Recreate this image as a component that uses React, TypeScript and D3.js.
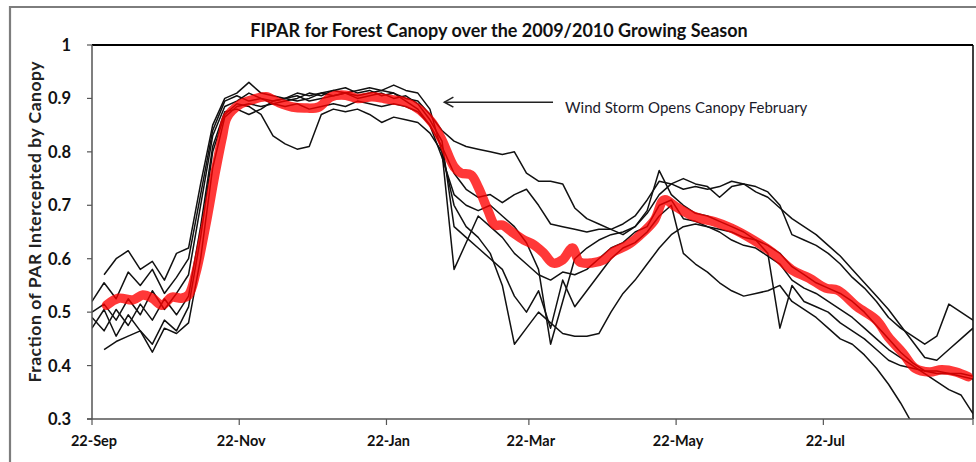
import React from "react";
import * as d3 from "d3";

const chartTitle = "FIPAR for Forest Canopy over the 2009/2010 Growing Season";
const yAxisTitle = "Fraction of PAR Intercepted by Canopy";
const annotationText = "Wind Storm Opens Canopy February";

const yTicks = [0.3, 0.4, 0.5, 0.6, 0.7, 0.8, 0.9, 1];
const yTickLabels = ["0.3", "0.4", "0.5", "0.6", "0.7", "0.8", "0.9", "1"];
// days after 22-Sep-2009
const xTickDays = [0, 61, 122, 181, 242, 303, 365];
const xTickLabels = ["22-Sep", "22-Nov", "22-Jan", "22-Mar", "22-May", "22-Jul", ""];

const sensorDays = [0, 5, 10, 15, 20, 25, 30, 35, 40, 45, 50, 55, 60, 65, 70, 75, 80, 85, 90, 95, 100, 105, 110, 115, 120, 125, 130, 135, 140, 145, 150, 155, 160, 165, 170, 175, 180, 185, 190, 195, 200, 205, 210, 215, 220, 225, 230, 235, 240, 245, 250, 255, 260, 265, 270, 275, 280, 285, 290, 295, 300, 305, 310, 315, 320, 325, 330, 335, 340, 345, 350, 355, 360, 365];

const sensor1 = [null, .57, .60, .615, .58, .595, .56, .61, .62, .74, .85, .90, .91, .93, .91, .905, .90, .91, .905, .91, .915, .91, .915, .92, .915, .91, .90, .895, .87, .84, .82, .81, .805, .80, .795, .80, .76, .745, .745, .74, .695, .675, .665, .655, .645, .66, .685, .72, .74, .75, .74, .735, .715, .735, .74, .735, .725, .70, .645, .635, .625, .61, .59, .565, .545, .52, .49, .47, .455, .44, .455, .515, .50, .485];
const sensor2 = [.52, .555, .525, .575, .55, .58, .535, .565, .60, .72, .84, .895, .905, .895, .90, .89, .895, .90, .91, .905, .915, .92, .91, .915, .905, .91, .895, .88, .85, .81, .76, .73, .715, .72, .705, .72, .73, .70, .665, .66, .655, .65, .655, .655, .665, .68, .71, .745, .74, .73, .735, .73, .735, .745, .74, .725, .715, .695, .675, .66, .645, .625, .605, .58, .555, .53, .505, .475, .445, .415, .41, .43, .45, .47];
const sensor3 = [.50, .515, .485, .525, .495, .54, .505, .535, .57, .70, .83, .885, .895, .91, .90, .895, .90, .895, .90, .91, .905, .91, .905, .91, .915, .925, .915, .91, .88, .80, .58, .63, .68, .66, .64, .61, .59, .57, .56, .575, .57, .58, .60, .62, .63, .65, .66, .70, .71, .675, .67, .66, .65, .635, .625, .62, .605, .59, .56, .545, .535, .52, .505, .49, .47, .45, .43, .415, .40, .385, .37, .355, .345, .31];
const sensor4 = [.49, .465, .505, .475, .515, .485, .525, .495, .53, .66, .81, .875, .88, .87, .88, .895, .90, .905, .895, .90, .905, .91, .90, .905, .91, .90, .905, .89, .86, .82, .66, .64, .62, .60, .58, .53, .50, .54, .47, .56, .51, .54, .57, .60, .62, .63, .65, .68, .70, .61, .59, .575, .555, .54, .53, .535, .54, .55, .52, .505, .49, .47, .45, .44, .42, .395, .365, .33, .29, null, null, null, null, null];
const sensor5 = [.47, .505, .455, .495, .465, .44, .485, .465, .51, .64, .80, .87, .89, .885, .87, .83, .815, .805, .81, .87, .88, .875, .88, .87, .855, .865, .86, .855, .835, .80, .70, .66, .64, .61, .55, .44, .47, .50, .48, .46, .455, .455, .46, .50, .535, .56, .59, .62, .645, .66, .665, .66, .655, .65, .64, .635, .625, .61, .585, .57, .555, .545, .535, .52, .50, .475, .45, .425, .405, .39, .385, .385, .38, .375];
const sensor6 = [null, .43, .445, .455, .465, .425, .47, .46, .48, .60, .77, .865, .885, .89, .885, .89, .885, .89, .88, .885, .89, .885, .895, .89, .885, .89, .885, .875, .85, .79, .72, .70, .69, .70, .68, .66, .63, .58, .44, .52, .60, .62, .635, .645, .65, .66, .69, .765, .72, .70, .685, .68, .67, .66, .65, .635, .61, .47, .55, .52, .51, .50, .48, .465, .45, .43, .41, .40, .395, .39, .39, .385, .385, .38];

const meanDays = [6, 11, 17, 21, 25, 29, 33, 37, 40, 43, 47, 51, 54, 56, 61, 66, 72, 77, 83, 88, 94, 99, 105, 110, 116, 121, 125, 130, 136, 141, 145, 150, 153, 157, 160, 164, 167, 170, 174, 179, 183, 187, 191, 195, 199, 202, 207, 212, 216, 222, 227, 233, 237, 242, 250, 258, 265, 274, 282, 290, 297, 304, 309, 317, 325, 330, 336, 341, 347, 352, 358, 363];
const meanValues = [.513, .526, .523, .532, .526, .513, .528, .526, .532, .573, .66, .76, .828, .865, .888, .897, .903, .893, .884, .882, .884, .903, .906, .9, .903, .9, .897, .893, .878, .854, .822, .772, .76, .757, .734, .691, .663, .663, .65, .635, .626, .611, .592, .598, .62, .594, .592, .598, .613, .626, .644, .672, .71, .697, .678, .669, .657, .635, .611, .579, .564, .545, .541, .51, .485, .453, .423, .395, .388, .392, .388, .379];

// annotation anchor points (day, value)
const arrowTip = [146, 0.893];
const arrowTail = [191, 0.893];
const annotationAt = [196, 0.893];

const START = Date.UTC(2009, 8, 22);
const toDate = (d: number) => new Date(START + d * 86400000);

const W = 976;
const H = 462;
const FONT = "Lato, 'Open Sans', 'DejaVu Sans', sans-serif";

export default function App() {
  const x = d3.scaleUtc().domain([toDate(0), toDate(365)]).range([92, 973]);
  const y = d3.scaleLinear().domain([0.3, 1]).range([419, 45]);

  const sensors = [sensor1, sensor2, sensor3, sensor4, sensor5, sensor6];
  const blackLine = d3
    .line<[number, number | null]>()
    .defined((p) => p[1] !== null)
    .x((p) => x(toDate(p[0])))
    .y((p) => y(p[1] as number));

  const redLine = d3
    .line<[number, number]>()
    .x((p) => x(toDate(p[0])))
    .y((p) => y(p[1]))
    .curve(d3.curveCatmullRom.alpha(0.5));

  const meanPts: [number, number][] = meanDays.map((d, i) => [d, meanValues[i]]);

  const [x0, x1] = x.range();
  const [yb, yt] = y.range();

  const tipX = x(toDate(arrowTip[0]));
  const tipY = y(arrowTip[1]);
  const tailX = x(toDate(arrowTail[0]));

  return (
    <svg
      width={W}
      height={H}
      style={{ position: "absolute", left: 0, top: 0, background: "#fff" }}
      fontFamily={FONT}
    >
      <rect x={0} y={0} width={W} height={H} fill="#fff" />
      {/* outer chart frame (cropped at right/bottom) */}
      <path d={`M10,${H + 5} L10,7 L${W + 5},7`} fill="none" stroke="#7d7d7d" strokeWidth={2.2} />

      <text x={499} y={30} textAnchor="middle" dominantBaseline="central" fontSize={18} fontWeight={700} fill="#111">
        {chartTitle}
      </text>

      <defs>
        <clipPath id="plotClip">
          <rect x={x0} y={yt} width={x1 - x0} height={yb - yt} />
        </clipPath>
      </defs>

      {/* plot border */}
      <line x1={x0} x2={x1} y1={yt} y2={yt} stroke="#000" strokeWidth={2} />
      <line x1={x1} x2={x1} y1={yt} y2={yb} stroke="#000" strokeWidth={1.5} />

      <g clipPath="url(#plotClip)">
        {sensors.map((s, i) => (
          <path
            key={i}
            d={blackLine(sensorDays.map((d, j) => [d, s[j]] as [number, number | null])) || ""}
            fill="none"
            stroke="#111"
            strokeWidth={1.5}
            strokeLinejoin="round"
          />
        ))}
        <path
          d={redLine(meanPts) || ""}
          fill="none"
          stroke="#ff0000"
          strokeOpacity={0.78}
          strokeWidth={9.5}
          strokeLinecap="round"
          strokeLinejoin="round"
        />
      </g>

      {/* axes */}
      <line x1={x0} x2={x0} y1={yt} y2={yb} stroke="#555" strokeWidth={1.5} />
      <line x1={x0 - 5} x2={x1} y1={yb} y2={yb} stroke="#555" strokeWidth={1.5} />
      {yTicks.map((t, i) => (
        <g key={t}>
          <line x1={x0 - 5} x2={x0} y1={y(t)} y2={y(t)} stroke="#555" strokeWidth={1.2} />
          <text x={71} y={y(t)} textAnchor="end" dominantBaseline="central" fontSize={16.5} fontWeight={700} fill="#111">
            {yTickLabels[i]}
          </text>
        </g>
      ))}
      {xTickDays.map((d, i) => (
        <g key={d}>
          <line x1={x(toDate(d))} x2={x(toDate(d))} y1={yb} y2={yb + 6} stroke="#555" strokeWidth={1.2} />
          <text x={x(toDate(d)) + 2} y={440} textAnchor="middle" dominantBaseline="central" fontSize={14.5} fontWeight={700} fill="#111">
            {xTickLabels[i]}
          </text>
        </g>
      ))}

      <text
        transform={`translate(34,222) rotate(-90)`}
        textAnchor="middle"
        dominantBaseline="central"
        fontSize={17.5}
        fontWeight={700}
        fill="#222"
        textLength={321}
        lengthAdjust="spacing"
      >
        {yAxisTitle}
      </text>

      {/* annotation */}
      <line x1={tailX} x2={tipX} y1={tipY} y2={tipY} stroke="#222" strokeWidth={1.5} />
      <path d={`M${tipX + 9},${tipY - 5} L${tipX},${tipY} L${tipX + 9},${tipY + 5}`} fill="none" stroke="#222" strokeWidth={1.6} />
      <text
        x={x(toDate(annotationAt[0]))}
        y={y(annotationAt[1]) + 5}
        dominantBaseline="central"
        fontSize={15}
        fill="#1a1a2a"
      >
        {annotationText}
      </text>
    </svg>
  );
}
